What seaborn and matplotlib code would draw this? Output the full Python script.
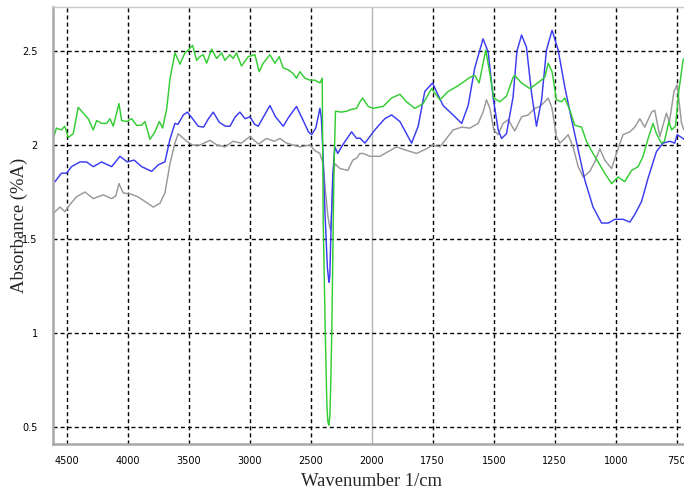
import numpy as np
import pandas as pd
import matplotlib
matplotlib.use("Agg")
import matplotlib.pyplot as plt
from matplotlib.ticker import FixedLocator, FuncFormatter
import seaborn as sns

# Spectrum (a): green trace
wn_green = [4615, 4587, 4546, 4519, 4490, 4449, 4408, 4367, 4326, 4285, 4257, 4216, 4175,
            4148, 4121, 4074, 4052, 4011, 3970, 3929, 3888, 3861, 3820, 3779, 3743, 3716,
            3683, 3656, 3615, 3574, 3533, 3506, 3470, 3437, 3410, 3383, 3355, 3314, 3273,
            3232, 3205, 3164, 3137, 3110, 3069, 3014, 2959, 2924, 2891, 2836, 2795, 2760,
            2727, 2686, 2645, 2618, 2590, 2549, 2508, 2467, 2426, 2407, 2399, 2382, 2369,
            2361, 2353, 2344, 2336, 2328, 2320, 2310, 2298, 2250, 2207, 2166, 2125, 2098,
            2076, 2030, 1995, 1954, 1919, 1885, 1858, 1824, 1790, 1755, 1721, 1687, 1653,
            1619, 1598, 1578, 1560, 1533, 1516, 1500, 1475, 1448, 1421, 1414, 1386, 1352,
            1320, 1291, 1277, 1261, 1243, 1222, 1209, 1188, 1168, 1140, 1120, 1093, 1072,
            1045, 1017, 990, 963, 935, 908, 888, 867, 847, 833, 813, 800, 782, 771, 755,
            741, 724, 720]
ab_green = [2.03, 2.09, 2.08, 2.10, 2.04, 2.06, 2.20, 2.17, 2.14, 2.08, 2.13, 2.115, 2.115,
            2.14, 2.10, 2.22, 2.13, 2.125, 2.14, 2.105, 2.105, 2.125, 2.03, 2.07, 2.125, 2.09,
            2.19, 2.35, 2.49, 2.43, 2.49, 2.505, 2.53, 2.45, 2.47, 2.48, 2.435, 2.51, 2.46,
            2.49, 2.45, 2.48, 2.46, 2.49, 2.42, 2.47, 2.48, 2.39, 2.435, 2.48, 2.435, 2.47,
            2.41, 2.40, 2.38, 2.355, 2.39, 2.355, 2.345, 2.345, 2.33, 2.355, 1.60, 1.00, 0.62,
            0.53, 0.51, 0.56, 0.76, 1.03, 1.40, 1.90, 2.18, 2.175, 2.18, 2.19, 2.195, 2.23,
            2.25, 2.205, 2.195, 2.205, 2.25, 2.27, 2.23, 2.195, 2.22, 2.30, 2.24, 2.285, 2.31,
            2.34, 2.36, 2.37, 2.33, 2.505, 2.38, 2.25, 2.23, 2.26, 2.36, 2.37, 2.33, 2.30,
            2.33, 2.36, 2.435, 2.39, 2.24, 2.23, 2.25, 2.185, 2.105, 2.095, 2.02, 1.955, 1.91,
            1.85, 1.795, 1.83, 1.805, 1.865, 1.885, 1.94, 2.035, 2.115, 2.06, 2.01, 2.02, 2.125,
            2.08, 2.10, 2.29, 2.45, 2.46]

# Spectrum (b): blue trace
wn_blue = [4615, 4599, 4546, 4504, 4463, 4394, 4340, 4285, 4216, 4134, 4066, 4006, 3950,
           3888, 3806, 3751, 3697, 3656, 3615, 3590, 3546, 3513, 3470, 3424, 3380, 3340,
           3301, 3250, 3200, 3164, 3120, 3082, 3040, 3000, 2960, 2932, 2880, 2836, 2790,
           2727, 2680, 2618, 2570, 2520, 2494, 2460, 2426, 2415, 2400, 2385, 2365, 2352,
           2345, 2335, 2320, 2303, 2280, 2240, 2166, 2125, 2098, 2057, 1988, 1947, 1919,
           1885, 1837, 1810, 1783, 1751, 1728, 1708, 1667, 1632, 1605, 1578, 1544, 1523,
           1503, 1482, 1468, 1448, 1421, 1405, 1386, 1366, 1345, 1325, 1304, 1284, 1261,
           1236, 1209, 1181, 1154, 1127, 1093, 1058, 1030, 1004, 970, 942, 922, 894, 867,
           833, 806, 778, 758, 748, 724, 720]
ab_blue = [1.80, 1.805, 1.85, 1.85, 1.885, 1.91, 1.91, 1.885, 1.91, 1.885, 1.94, 1.91, 1.92,
           1.885, 1.86, 1.895, 1.91, 2.03, 2.115, 2.11, 2.16, 2.175, 2.14, 2.10, 2.095, 2.14,
           2.175, 2.12, 2.10, 2.10, 2.15, 2.175, 2.14, 2.15, 2.11, 2.10, 2.16, 2.21, 2.15,
           2.10, 2.15, 2.205, 2.14, 2.07, 2.055, 2.09, 2.195, 2.15, 1.95, 1.65, 1.35, 1.27,
           1.30, 1.55, 1.85, 1.99, 1.955, 2.00, 2.07, 2.035, 2.037, 2.01, 2.08, 2.14, 2.16,
           2.125, 2.01, 2.10, 2.285, 2.33, 2.265, 2.21, 2.16, 2.115, 2.21, 2.41, 2.565, 2.495,
           2.255, 2.08, 2.035, 2.06, 2.255, 2.50, 2.585, 2.52, 2.275, 2.10, 2.24, 2.505, 2.61,
           2.505, 2.31, 2.135, 1.975, 1.815, 1.67, 1.585, 1.585, 1.605, 1.605, 1.59, 1.63,
           1.70, 1.825, 1.965, 2.01, 2.02, 2.01, 2.055, 2.035, 2.03]

# Spectrum (c): grey trace
wn_grey = [4615, 4599, 4558, 4517, 4480, 4422, 4353, 4285, 4203, 4134, 4100, 4074, 4039,
           3980, 3920, 3861, 3793, 3738, 3697, 3656, 3615, 3588, 3519, 3470, 3410, 3328,
           3270, 3205, 3137, 3070, 3000, 2930, 2864, 2800, 2754, 2700, 2590, 2508, 2467,
           2426, 2400, 2380, 2360, 2345, 2336, 2325, 2315, 2303, 2262, 2197, 2156, 2125,
           2098, 2071, 2016, 1967, 1933, 1899, 1865, 1817, 1776, 1749, 1721, 1694, 1667,
           1632, 1598, 1564, 1544, 1530, 1516, 1500, 1482, 1462, 1441, 1414, 1386, 1359,
           1332, 1311, 1291, 1277, 1262, 1243, 1229, 1216, 1195, 1175, 1154, 1133, 1106,
           1086, 1065, 1045, 1017, 997, 970, 942, 922, 901, 881, 853, 840, 819, 792, 780,
           761, 748, 730, 720]
ab_grey = [1.63, 1.645, 1.67, 1.645, 1.68, 1.725, 1.75, 1.715, 1.735, 1.715, 1.73, 1.795, 1.745,
           1.74, 1.725, 1.70, 1.67, 1.69, 1.745, 1.90, 2.01, 2.06, 2.02, 2.00, 2.00, 2.025,
           2.00, 1.99, 2.02, 2.01, 2.045, 2.005, 2.035, 2.02, 2.035, 2.01, 1.99, 2.00, 1.97,
           1.955, 1.90, 1.75, 1.62, 1.56, 1.55, 1.70, 1.85, 1.90, 1.875, 1.865, 1.92, 1.93,
           1.955, 1.955, 1.94, 1.94, 1.965, 1.99, 1.975, 1.955, 1.98, 2.00, 1.99, 2.035, 2.08,
           2.095, 2.09, 2.115, 2.175, 2.24, 2.195, 2.08, 2.055, 2.115, 2.135, 2.075, 2.15, 2.16,
           2.195, 2.205, 2.23, 2.25, 2.20, 2.045, 2.01, 2.025, 2.055, 1.99, 1.885, 1.83, 1.86,
           1.91, 1.98, 1.92, 1.875, 1.955, 2.055, 2.07, 2.095, 2.14, 2.095, 2.175, 2.185, 2.045,
           2.17, 2.12, 2.285, 2.32, 2.115, 2.08]

x_major = [4500, 4000, 3500, 3000, 2500, 2000, 1750, 1500, 1250, 1000, 750]
y_major = [0.5, 1, 1.5, 2, 2.5]


def fwd(w):
    # spectrometer axis: the region above 2000 1/cm is drawn at half scale
    w = np.asarray(w, dtype=float)
    return np.where(w > 2000, 2000 + (w - 2000) / 2.0, w)


def inv(u):
    u = np.asarray(u, dtype=float)
    return np.where(u > 2000, 2000 + (u - 2000) * 2.0, u)


df = pd.concat([
    pd.DataFrame({"wavenumber": wn_grey, "absorbance": ab_grey, "sample": "c"}),
    pd.DataFrame({"wavenumber": wn_blue, "absorbance": ab_blue, "sample": "b"}),
    pd.DataFrame({"wavenumber": wn_green, "absorbance": ab_green, "sample": "a"}),
], ignore_index=True)

sns.set_style("white")
plt.rcParams["font.family"] = ["DejaVu Sans"]

fig = plt.figure(figsize=(6.84, 4.91), dpi=100)
ax = fig.add_axes([53 / 684, 1 - 444 / 491, 631 / 684, 437 / 491])
ax.set_xscale("function", functions=(fwd, inv))

sns.lineplot(data=df, x="wavenumber", y="absorbance", hue="sample",
             hue_order=["c", "b", "a"],
             palette={"a": "#33cc33", "b": "#3a3af2", "c": "#999999"},
             sort=False, estimator=None, linewidth=1.05, legend=False, ax=ax)

ax.set_xlim(4615, 720)
ax.set_ylim(0.41, 2.734)

minor_x = [v for v in list(range(4600, 2000, -100)) + list(range(2000, 700, -50))
           if v not in x_major]
ax.xaxis.set_major_locator(FixedLocator(x_major))
ax.xaxis.set_minor_locator(FixedLocator(minor_x))
ax.xaxis.set_major_formatter(FuncFormatter(lambda v, p: f"{v:g}"))
ax.xaxis.set_minor_formatter(FuncFormatter(lambda v, p: ""))
ax.yaxis.set_major_locator(FixedLocator(y_major))
ax.yaxis.set_minor_locator(FixedLocator(np.round(np.arange(0.5, 2.75, 0.1), 2)))
ax.yaxis.set_major_formatter(FuncFormatter(lambda v, p: f"{v:g}"))

ax.tick_params(axis="both", which="both", direction="out", length=5, width=1,
               color="#a8a8a8", labelsize=7, labelcolor="black")
ax.tick_params(axis="x", pad=4)
ax.tick_params(axis="y", pad=6)

ax.grid(True, which="major", color="black", linestyle=(0, (2.9, 2.2)), linewidth=1.0)
for v, gl in zip(x_major, ax.get_xgridlines()):
    if v == 2000:
        gl.set_linestyle("-")
        gl.set_color("#b4b4b4")

for side in ["left", "bottom"]:
    ax.spines[side].set_color("#a8a8a8")
    ax.spines[side].set_linewidth(1.8)
ax.spines["top"].set_color("#c8c8c8")
ax.spines["top"].set_linewidth(1.0)
ax.spines["right"].set_visible(False)

ax.set_xlabel("Wavenumber 1/cm", family="Liberation Serif", fontsize=13.4)
ax.set_ylabel("Absorbance (%A)", family="Liberation Serif", fontsize=13.4)
ax.xaxis.set_label_coords(0.504, -0.066)
ax.yaxis.set_label_coords(-0.040, 0.5)

fig.savefig("out.png", dpi=100)
